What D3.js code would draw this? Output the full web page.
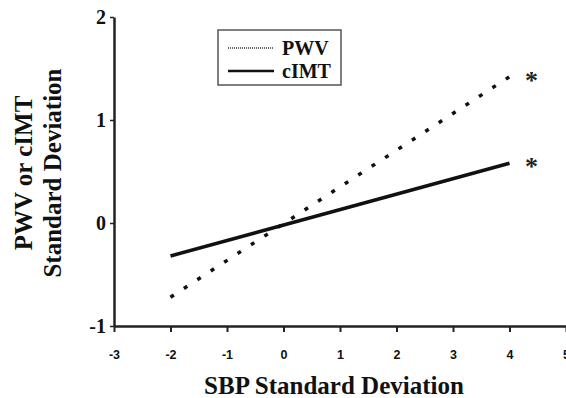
<!DOCTYPE html>
<html><head><meta charset="utf-8">
<script src="https://cdn.jsdelivr.net/npm/d3@7"></script>
<style>body{margin:0;background:#fff}svg{display:block}</style>
</head><body>
<svg id="c" width="566" height="398"></svg>
<script>
const xTicks = [-3,-2,-1,0,1,2,3,4,5];
const yTicks = [-1,0,1,2];
const seriesNames = ["PWV","cIMT"];
const sbp = [-2, 4];
const pwv = [-0.72, 1.42];
const cimt = [-0.32, 0.58];
const sigLabels = ["*","*"];

const svg = d3.select("#c");
const x = d3.scaleLinear().domain([-3,5]).range([114,566]);
const y = d3.scaleLinear().domain([-1,2]).range([326,17]);
const serif = "'Liberation Serif','Times New Roman',serif";
const sans = "'Liberation Sans',Arial,sans-serif";
const fmt = d => String(d);

// axes
const xa = svg.append("g").attr("transform",`translate(0,${y(-1)})`)
  .call(d3.axisBottom(x).tickValues(xTicks).tickSize(6).tickSizeOuter(0).tickFormat(fmt));
xa.select(".domain").attr("stroke","#222").attr("stroke-width",2.5);
xa.selectAll(".tick line").attr("stroke","#222").attr("stroke-width",2);
xa.selectAll(".tick text").attr("font-family",sans).attr("font-weight","bold")
  .attr("font-size",12.5).attr("fill","#111").attr("dy","1.9em");

const ya = svg.append("g").attr("transform",`translate(${x(-3)},0)`)
  .call(d3.axisLeft(y).tickValues(yTicks).tickSize(4).tickSizeOuter(0).tickFormat(fmt));
ya.select(".domain").attr("stroke","#222").attr("stroke-width",2.5);
ya.selectAll(".tick line").attr("stroke","#222").attr("stroke-width",1.5);
ya.selectAll(".tick text").attr("font-family",serif).attr("font-weight","bold")
  .attr("font-size",20).attr("fill","#111").attr("x",-8);

// lines
const line = d3.line().x(d=>x(d[0])).y(d=>y(d[1]));
svg.append("path").datum(sbp.map((v,i)=>[v,pwv[i]])).attr("d",line)
  .attr("fill","none").attr("stroke","#111").attr("stroke-width",3.5)
  .attr("stroke-dasharray","4 12");
svg.append("path").datum(sbp.map((v,i)=>[v,cimt[i]])).attr("d",line)
  .attr("fill","none").attr("stroke","#111").attr("stroke-width",3.5);

// significance stars
[pwv, cimt].forEach((s,i)=>{
  svg.append("text").attr("x",x(sbp[1])+22).attr("y",y(s[1])+12)
    .attr("text-anchor","middle").attr("font-family",serif).attr("font-weight","bold")
    .attr("font-size",26).attr("fill","#222").text(sigLabels[i]);
});

// legend
const lg = svg.append("g");
lg.append("rect").attr("x",218).attr("y",30).attr("width",123).attr("height",55)
  .attr("fill","#fff").attr("stroke","#555").attr("stroke-width",1.5);
lg.append("line").attr("x1",228).attr("x2",274).attr("y1",48).attr("y2",48)
  .attr("stroke","#333").attr("stroke-width",1.5).attr("stroke-dasharray","1 1");
lg.append("line").attr("x1",228).attr("x2",274).attr("y1",71).attr("y2",71)
  .attr("stroke","#111").attr("stroke-width",2.5);
lg.append("text").attr("x",282).attr("y",55).attr("font-family",serif).attr("font-weight","bold")
  .attr("font-size",20).attr("fill","#111").text(seriesNames[0]);
lg.append("text").attr("x",282).attr("y",78).attr("font-family",serif).attr("font-weight","bold")
  .attr("font-size",20).attr("fill","#111").text(seriesNames[1]);

// axis titles
svg.append("text").attr("x",334).attr("y",394).attr("text-anchor","middle")
  .attr("font-family",serif).attr("font-weight","bold").attr("font-size",25).attr("fill","#111")
  .text("SBP Standard Deviation");
const yt = svg.append("text").attr("transform","translate(0,173) rotate(-90)")
  .attr("text-anchor","middle").attr("font-family",serif).attr("font-weight","bold")
  .attr("font-size",25).attr("fill","#111");
yt.append("tspan").attr("x",0).attr("y",32).text("PWV or cIMT");
yt.append("tspan").attr("x",0).attr("y",61).text("Standard Deviation");
</script>
</body></html>
